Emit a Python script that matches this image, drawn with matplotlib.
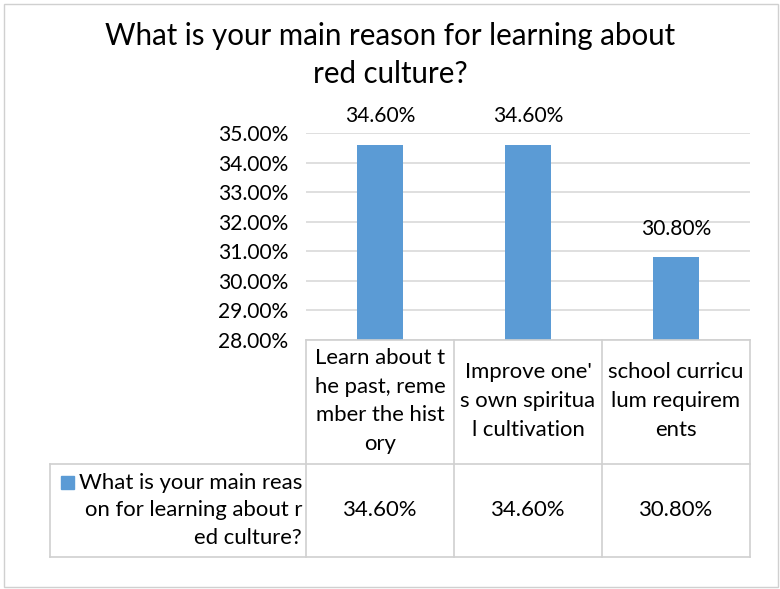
import matplotlib
matplotlib.use("Agg")
import matplotlib.pyplot as plt
from matplotlib.lines import Line2D
from matplotlib.patches import Rectangle

title = "What is your main reason for learning about\nred culture?"
categories = ["Learn about t\nhe past, reme\nmber the hist\nory",
              "Improve one'\ns own spiritua\nl cultivation",
              "school curricu\nlum requirem\nents"]
values = [0.346, 0.346, 0.308]
value_labels = ["34.60%", "34.60%", "30.80%"]
series_name = "What is your main reas\non for learning about r\ned culture?"
yticks = [0.28, 0.29, 0.30, 0.31, 0.32, 0.33, 0.34, 0.35]

BAR = "#5b9bd5"
GRID = "#d9d9d9"
FONT = "Lato"
W, H = 780, 589

plt.rcParams['font.family'] = [FONT, 'DejaVu Sans']
fig = plt.figure(figsize=(W / 100, H / 100), dpi=100)
renderer = fig.canvas.get_renderer()


def fit_size(s, target_px, base=14.0):
    t = fig.text(0, 0, s, fontsize=base)
    w = t.get_window_extent(renderer).width
    t.remove()
    return base * target_px / w


FS_TITLE = fit_size("What is your main reason for learning about", 572)
FS = fit_size("Learn about t", 130)
FS_TICK = fit_size("35.00%", 71)


def fx(px):
    return px / W


def fy(py):
    return 1 - py / H


# outer frame
fig.add_artist(Rectangle((fx(4), fy(587)), fx(774), 583 / H, transform=fig.transFigure,
                         fill=False, edgecolor="#d0d0d0", lw=1))

pl, pr, pt, pb = 306, 750, 133, 340
ax = fig.add_axes([fx(pl), fy(pb), fx(pr - pl), (pb - pt) / H])
x = range(len(values))
ax.bar(x, values, width=0.31, color=BAR, zorder=3)
ax.set_xlim(-0.5, len(values) - 0.5)
ax.set_ylim(0.28, 0.35)
ax.set_yticks(yticks)
ax.set_yticklabels([f"{v*100:.2f}%" for v in yticks], fontsize=FS_TICK, color="#000000")
ax.tick_params(axis='y', length=0, pad=13)
ax.set_xticks([])
ax.grid(axis='y', color=GRID, lw=1.2, zorder=0)
for s in ax.spines.values():
    s.set_visible(False)
for i, (v, lab) in enumerate(zip(values, value_labels)):
    ax.annotate(lab, (i, v), xytext=(0, 20.5), textcoords="offset points",
                ha="center", va="center", fontsize=FS_TICK)

fig.text(0.5, fy(55), title, ha="center", va="center", fontsize=FS_TITLE, linespacing=1.4)

# data table
LC = "#d0d0d0"
cols = [306, 454, 602, 750]
r0, r1, r2 = 340, 464, 557


def line(x0, y0, x1, y1):
    fig.add_artist(Line2D([fx(x0), fx(x1)], [fy(y0), fy(y1)], transform=fig.transFigure,
                          color=LC, lw=1.2))


line(306, r0, 750, r0)
line(50, r1, 750, r1)
line(50, r2, 750, r2)
line(50, r1, 50, r2)
for c in cols:
    line(c, r0, c, r2)

for i, cat in enumerate(categories):
    cx = (cols[i] + cols[i + 1]) / 2
    fig.text(fx(cx), fy(401), cat, ha="center", va="center",
             fontsize=FS, linespacing=1.54)
    fig.text(fx(cx), fy((r1 + r2) / 2), value_labels[i], ha="center", va="center",
             fontsize=FS)

fig.add_artist(Rectangle((fx(61), fy(489)), fx(13), 13 / H, transform=fig.transFigure,
                         color=BAR))
fig.text(fx(302), fy((r1 + r2) / 2), series_name, ha="right", va="center",
         fontsize=FS, linespacing=1.46)

fig.savefig("out.png", dpi=100)
